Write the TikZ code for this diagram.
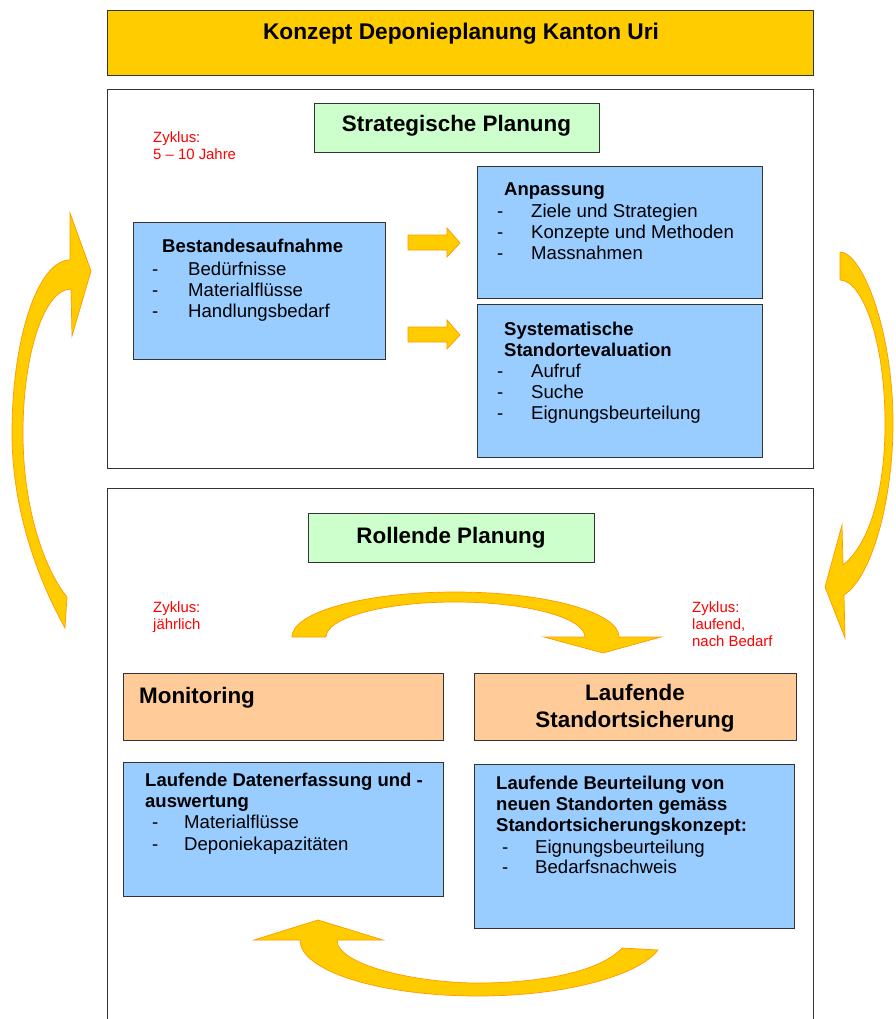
\documentclass[tikz,border=0pt]{standalone}
\usepackage{fontspec}
\setmainfont{Liberation Sans}
\definecolor{gold}{HTML}{FFCC00}
\definecolor{arrowline}{HTML}{FF9900}
\definecolor{lgreen}{HTML}{CCFFCC}
\definecolor{lblue}{HTML}{99CCFF}
\definecolor{peach}{HTML}{FFCC99}
\definecolor{framecol}{HTML}{333333}
\definecolor{cycred}{HTML}{FF0000}
\begin{document}
\begin{tikzpicture}[x=1pt,y=-1pt,
  box/.style={draw=framecol, line width=0.9pt, anchor=north west, inner sep=0pt, outer sep=0pt},
  txt/.style={inner sep=0pt, anchor=base west, font=\fontsize{18.6}{21}\selectfont},
  btxt/.style={inner sep=0pt, anchor=base west, font=\fontsize{18.5}{21}\selectfont\bfseries},
  headc/.style={inner sep=0pt, anchor=base, font=\fontsize{22.4}{26}\selectfont\bfseries},
  headw/.style={inner sep=0pt, anchor=base west, font=\fontsize{22.4}{26}\selectfont\bfseries},
  cyc/.style={inner sep=0pt, anchor=base west, text=cycred, font=\fontsize{14.9}{17}\selectfont},
  blockarrow/.style={fill=gold, draw=arrowline, line width=0.7pt, line join=miter}
]
\useasboundingbox (0,0) rectangle (895,1019);

% title
\node[box, fill=gold, minimum width=706pt, minimum height=65pt] (title) at (107,10) {};
\node[headc, font=\fontsize{22.7}{26}\selectfont\bfseries] (titleT) at (461,40) {Konzept Deponieplanung Kanton Uri};

% upper frame
\node[box, minimum width=706pt, minimum height=379pt] (upper) at (107,89) {};
\node[box, fill=lgreen, minimum width=285pt, minimum height=49pt] (strat) at (314,103) {};
\node[headc] (stratT) at (456.5,132) {Strategische Planung};
\node[cyc] (cyc1a) at (153,143) {Zyklus:};
\node[cyc] (cyc1b) at (153,160) {5 – 10 Jahre};

\node[box, fill=lblue, minimum width=252pt, minimum height=137pt] (best) at (133,222) {};
\node[btxt] (bestT) at (162,252) {Bestandesaufnahme};
\node[txt] (bestD1) at (152,275) {-};
\node[txt] (bestI1) at (188,275) {Bedürfnisse};
\node[txt] (bestD2) at (152,296) {-};
\node[txt] (bestI2) at (188,296) {Materialflüsse};
\node[txt] (bestD3) at (152,317) {-};
\node[txt] (bestI3) at (188,317) {Handlungsbedarf};

\node[box, fill=lblue, minimum width=285pt, minimum height=132pt] (anp) at (477,166) {};
\node[btxt] (anpT) at (504,195) {Anpassung};
\node[txt] (anpD1) at (497,217) {-};
\node[txt] (anpI1) at (531,217) {Ziele und Strategien};
\node[txt] (anpD2) at (497,238) {-};
\node[txt] (anpI2) at (531,238) {Konzepte und Methoden};
\node[txt] (anpD3) at (497,259) {-};
\node[txt] (anpI3) at (531,259) {Massnahmen};

\node[box, fill=lblue, minimum width=285pt, minimum height=153pt] (sys) at (477,304) {};
\node[btxt] (sysT1) at (504,335) {Systematische};
\node[btxt] (sysT2) at (504,356) {Standortevaluation};
\node[txt] (sysD1) at (497,377) {-};
\node[txt] (sysI1) at (531,377) {Aufruf};
\node[txt] (sysD2) at (497,398) {-};
\node[txt] (sysI2) at (531,398) {Suche};
\node[txt] (sysD3) at (497,419) {-};
\node[txt] (sysI3) at (531,419) {Eignungsbeurteilung};

% small block arrows
\draw[blockarrow] (408,235) -- (447,235) -- (447,228) -- (460,243) -- (447,257) -- (447,250) -- (408,250) -- cycle;
\draw[blockarrow] (408,327) -- (447,327) -- (447,320) -- (460,335) -- (447,349) -- (447,342) -- (408,342) -- cycle;

% lower frame (bottom edge beyond picture)
\draw[draw=framecol, line width=0.9pt] (107,1030) -- (107,488) -- (813,488) -- (813,1030);
\node[box, fill=lgreen, minimum width=286pt, minimum height=49pt] (roll) at (308,513) {};
\node[headc] (rollT) at (451,543) {Rollende Planung};
\node[cyc] (cyc2a) at (153,612) {Zyklus:};
\node[cyc] (cyc2b) at (153,629) {jährlich};
\node[cyc] (cyc3a) at (692,612) {Zyklus:};
\node[cyc] (cyc3b) at (692,629) {laufend,};
\node[cyc] (cyc3c) at (692,646) {nach Bedarf};

\node[box, fill=peach, minimum width=320pt, minimum height=67pt] (mon) at (123,673) {};
\node[headw] (monT) at (139,703) {Monitoring};
\node[box, fill=peach, minimum width=322pt, minimum height=67pt] (lauf) at (474,673) {};
\node[headc] (laufT1) at (635,700) {Laufende};
\node[headc] (laufT2) at (635,727) {Standortsicherung};

\node[box, fill=lblue, minimum width=320pt, minimum height=134pt] (dat) at (123,762) {};
\node[btxt] (datT1) at (145,786) {Laufende Datenerfassung und -};
\node[btxt] (datT2) at (145,807) {auswertung};
\node[txt] (datD1) at (152,828) {-};
\node[txt] (datI1) at (184,828) {Materialflüsse};
\node[txt] (datD2) at (152,850) {-};
\node[txt] (datI2) at (184,850) {Deponiekapazitäten};

\node[box, fill=lblue, minimum width=320pt, minimum height=164pt] (beur) at (474,764) {};
\node[btxt] (beurT1) at (496,789) {Laufende Beurteilung von};
\node[btxt] (beurT2) at (496,810) {neuen Standorten gemäss};
\node[btxt] (beurT3) at (496,831.5) {Standortsicherungskonzept:};
\node[txt] (beurD1) at (502,853) {-};
\node[txt] (beurI1) at (535,853) {Eignungsbeurteilung};
\node[txt] (beurD2) at (502,873.5) {-};
\node[txt] (beurI2) at (535,873.5) {Bedarfsnachweis};

% big curved arrows
\draw[blockarrow] (65,628) .. controls (45,592) and (12,520) .. (12,433)
  .. controls (12,338) and (38,260) .. (70,260) -- (70,213) -- (91,271) -- (72,336) -- (71,289)
  .. controls (44.5,289) and (23,353) .. (23,433)
  .. controls (23,510) and (45,570) .. (67,597) -- cycle;

\draw[blockarrow] (840,252) .. controls (862,252) and (893,330) .. (893,423)
  .. controls (893,500) and (872,577) .. (844,595) -- (845,638) -- (825,587) -- (842,525) -- (843,565)
  .. controls (866,547) and (885,500) .. (885,423)
  .. controls (885,340) and (862,280) .. (840,280) -- cycle;

\draw[blockarrow] (292,637) .. controls (292,612) and (365,592) .. (455,592)
  .. controls (545,592) and (619,612) .. (619,637) -- (661,637) -- (603,653) -- (544,637) -- (585,637)
  .. controls (585,618) and (527,602) .. (455,602)
  .. controls (383,602) and (326,618) .. (326,637) -- cycle;

\draw[blockarrow] (300,940) .. controls (300,971) and (380,996) .. (478,996)
  .. controls (570,996) and (640,974) .. (658,950) -- (622,948)
  .. controls (600,972) and (540,983) .. (478,983)
  .. controls (416,983) and (337,965) .. (337,940) -- (383,940) -- (318,920) -- (254,940) -- cycle;
\end{tikzpicture}
\end{document}
